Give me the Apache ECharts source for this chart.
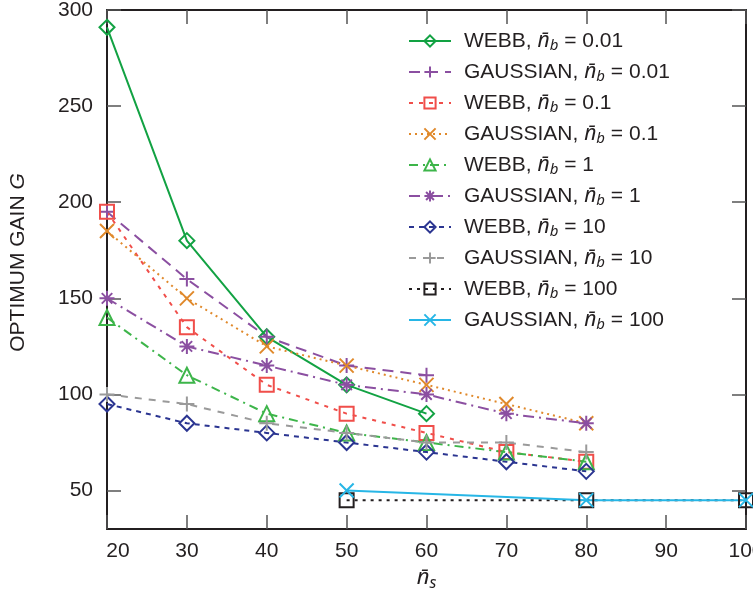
<!DOCTYPE html>
<html>
<head>
<meta charset="utf-8">
<script src="https://cdn.jsdelivr.net/npm/echarts@6/dist/echarts.min.js"></script>
<style>
  html, body { margin: 0; padding: 0; background: #fff; }
  #main { width: 753px; height: 604px; }
</style>
</head>
<body>
<div id="main"></div>
<script>
// n_s values on the x axis
var nsAll = [20, 30, 40, 50, 60, 70, 80];
var nsShort = [20, 30, 40, 50, 60];
var nsHigh = [50, 80, 100];

// optimum gain G
var webb001 = [291, 180, 130, 105, 90];
var gauss001 = [195, 160, 130, 115, 110];
var webb01 = [195, 135, 105, 90, 80, 70, 65];
var gauss01 = [185, 150, 125, 115, 105, 95, 85];
var webb1 = [140, 110, 90, 80, 75, 70, 65];
var gauss1 = [150, 125, 115, 105, 100, 90, 85];
var webb10 = [95, 85, 80, 75, 70, 65, 60];
var gauss10 = [100, 95, 85, 80, 75, 75, 70];
var webb100 = [45, 45, 45];
var gauss100 = [50, 45, 45];

var yTicks = [50, 100, 150, 200, 250, 300];

var FONT = "'Liberation Sans', Arial, sans-serif";
var MATH = "'Noto Sans', 'DejaVu Sans', sans-serif";
var AXIS = '#231f20';

var SYM_PLUS = 'path://M0,-10L0,10M-10,0L10,0';
var SYM_X = 'path://M-10,-10L10,10M-10,10L10,-10';
var SYM_STAR = 'path://M0,-10L0,10M-10,0L10,0M-7,-7L7,7M-7,7L7,-7';

function pairs(xs, ys) {
    return ys.map(function (y, i) { return [xs[i], y]; });
}

// model, nb, xs, ys, colour, dash, symbol, size
var defs = [
    ['WEBB', '0.01', nsShort, webb001, '#12a243', 'solid', 'diamond', 15],
    ['GAUSSIAN', '0.01', nsShort, gauss001, '#8b4fa1', [11, 7], SYM_PLUS, 15],
    ['WEBB', '0.1', nsAll, webb01, '#f04e4a', [4, 6], 'rect', 14],
    ['GAUSSIAN', '0.1', nsAll, gauss01, '#e0892b', [2, 4], SYM_X, 14],
    ['WEBB', '1', nsAll, webb1, '#3db54a', [9, 5, 2, 5], 'triangle', 15],
    ['GAUSSIAN', '1', nsAll, gauss1, '#8b4fa1', [11, 5, 2, 5], SYM_STAR, 15],
    ['WEBB', '10', nsAll, webb10, '#2b3591', [5, 5], 'diamond', 15],
    ['GAUSSIAN', '10', nsAll, gauss10, '#9a9a9a', [7, 7], SYM_PLUS, 15],
    ['WEBB', '100', nsHigh, webb100, '#231f20', [3, 5], 'rect', 14],
    ['GAUSSIAN', '100', nsHigh, gauss100, '#27b6e6', 'solid', SYM_X, 14]
];

var series = defs.map(function (d) {
    var filled = d[6].indexOf('path://') === 0;
    return {
        name: d[0] + ', nb = ' + d[1],
        type: 'line',
        data: pairs(d[2], d[3]),
        symbol: d[6],
        symbolSize: d[7],
        showAllSymbol: true,
        lineStyle: { color: d[4], width: 2, type: d[5] },
        itemStyle: {
            color: filled ? d[4] : 'rgba(255,255,255,0)',
            borderColor: d[4],
            borderWidth: 2
        },
        emphasis: { disabled: true },
        animation: false
    };
});

var txt = { fontFamily: FONT, fontSize: 21, color: AXIS };

var chart = echarts.init(document.getElementById('main'));
chart.setOption({
    backgroundColor: '#fff',
    animation: false,
    grid: { left: 107, right: 7, top: 10, bottom: 75, containLabel: false, outerBoundsMode: 'none' },
    legend: {
        orient: 'vertical',
        left: 408,
        top: 29,
        padding: 0,
        itemWidth: 42,
        itemHeight: 14,
        itemGap: 7,
        data: series.map(function (s) { return s.name; }),
        formatter: function (name) {
            var parts = name.split(', nb = ');
            return '{h|' + parts[0] + ', }{n|n\u0304}{s|b}{t| = ' + parts[1] + '}';
        },
        textStyle: {
            fontFamily: FONT, fontSize: 21, color: AXIS, lineHeight: 24,
            rich: {
                h: { fontFamily: FONT, fontSize: 21, color: AXIS, lineHeight: 24, padding: [0, 0, 0, 8] },
                t: { fontFamily: FONT, fontSize: 21, color: AXIS, lineHeight: 24 },
                n: { fontFamily: MATH, fontSize: 21, color: AXIS, fontStyle: 'italic', lineHeight: 24 },
                s: { fontFamily: MATH, fontSize: 15, color: AXIS, fontStyle: 'italic', lineHeight: 24, verticalAlign: 'bottom', padding: [8, 0, 0, 0] }
            }
        }
    },
    xAxis: [{
        type: 'value', position: 'bottom', min: 20, max: 100, interval: 10,
        name: '{n|n\u0304}{s|s}', nameLocation: 'middle', nameGap: 36,
        nameTextStyle: {
            rich: {
                n: { fontFamily: MATH, fontSize: 22, color: AXIS, fontStyle: 'italic' },
                s: { fontFamily: MATH, fontSize: 16, color: AXIS, fontStyle: 'italic', verticalAlign: 'bottom', padding: [10, 0, 0, 0] }
            }
        },
        axisLine: { show: true, onZero: false, lineStyle: { color: AXIS, width: 2 } },
        axisTick: { show: true, inside: true, length: 14, lineStyle: { color: '#555', width: 1.5 } },
        axisLabel: Object.assign({ margin: 12, showMinLabel: true, showMaxLabel: true,
            formatter: function (v) { return v === 20 ? '{f|20}' : String(v); },
            rich: { f: { fontFamily: FONT, fontSize: 21, color: AXIS, padding: [0, 0, 0, 22] } }
        }, txt),
        splitLine: { show: false }
    }, {
        type: 'value', position: 'top', min: 20, max: 100, interval: 10,
        axisLine: { show: true, onZero: false, lineStyle: { color: AXIS, width: 2 } },
        axisTick: { show: true, inside: true, length: 14, lineStyle: { color: '#555', width: 1.5 } },
        axisLabel: { show: false },
        splitLine: { show: false }
    }],
    yAxis: [{
        type: 'value', position: 'left', min: 30, max: 300,
        name: 'OPTIMUM GAIN {g|G}', nameLocation: 'middle', nameGap: 78, nameRotate: 90,
        nameTextStyle: {
            fontFamily: FONT, fontSize: 21, color: AXIS, padding: [0, 0, 0, 14],
            rich: { g: { fontFamily: FONT, fontSize: 21, color: AXIS, fontStyle: 'italic' } }
        },
        axisLine: { show: true, onZero: false, lineStyle: { color: AXIS, width: 2 } },
        axisTick: { show: true, inside: true, length: 14, customValues: yTicks, lineStyle: { color: '#555', width: 1.5 } },
        axisLabel: Object.assign({ margin: 14, customValues: yTicks }, txt),
        splitLine: { show: false }
    }, {
        type: 'value', position: 'right', min: 30, max: 300,
        axisLine: { show: true, onZero: false, lineStyle: { color: AXIS, width: 2 } },
        axisTick: { show: true, inside: true, length: 14, customValues: yTicks, lineStyle: { color: '#555', width: 1.5 } },
        axisLabel: { show: false },
        splitLine: { show: false }
    }],
    series: series
});
</script>
</body>
</html>
